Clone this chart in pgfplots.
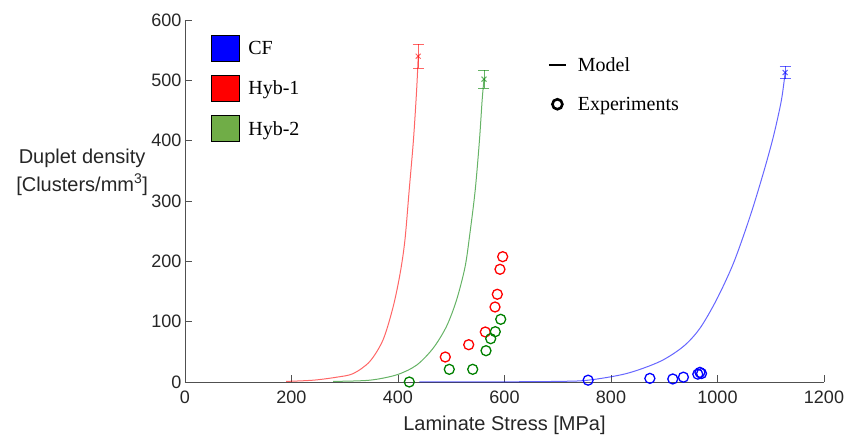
\documentclass[border=0pt]{standalone}
\usepackage{fontspec}
\setmainfont{Liberation Sans}
\newfontfamily\legfont{Liberation Serif}
\usepackage{pgfplots}
\pgfplotsset{compat=1.18}
\definecolor{cfblue}{RGB}{0,0,255}
\definecolor{hyred}{RGB}{255,0,0}
\definecolor{hygreen}{RGB}{0,128,0}
\definecolor{hypatch}{RGB}{112,173,71}
\definecolor{axgray}{RGB}{80,80,80}

\begin{document}
\begin{tikzpicture}
\begin{axis}[
  scale only axis, width=639pt, height=362pt,
  xmin=0, xmax=1200, ymin=0, ymax=600,
  axis x line*=bottom, axis y line*=left,
  axis line style={axgray, line width=0.9pt},
  tick align=inside, major tick length=7pt,
  tick style={axgray, line width=0.9pt},
  xtick={0,200,...,1200}, ytick={0,100,...,600},
  /pgf/number format/assume math mode=true,
  /pgf/number format/1000 sep={},
  tick label style={font=\fontsize{18}{21}\selectfont, text=black!85},
  x tick label style={yshift=-5pt},
  xlabel={Laminate Stress [MPa]},
  ylabel={Duplet density\\{[}Clusters/mm\textsuperscript{3}{]}},
  every axis x label/.style={at={(rel axis cs:0.5,0)}, yshift=-43pt, anchor=center,
    font=\fontsize{20}{24}\selectfont, text=black!85},
  every axis y label/.style={at={(rel axis cs:-0.161,0.58)}, anchor=center, align=center,
    font=\fontsize{20}{28}\selectfont, text=black!85},
  clip=false,
  legend cell align=left,
  legend style={at={(0.036,0.965)}, anchor=north west, draw=none, fill=none,
    row sep=13pt, column sep=6pt, font=\legfont\fontsize{20}{24}\selectfont},
  legend image code/.code={\draw[#1, draw=black, line width=1.2pt] (0pt,-13pt) rectangle (28pt,13pt);},
]
\addlegendimage{fill=cfblue}
\addlegendentry{CF}
\addlegendimage{fill=hyred}
\addlegendentry{Hyb-1}
\addlegendimage{fill=hypatch}
\addlegendentry{Hyb-2}

% model curves
\addplot[hyred, opacity=0.6, line width=1pt, smooth, forget plot] coordinates {
  (190,1) (241,3) (285,8) (316,14) (347,34) (372,70) (391,125) (404,180)
  (413,235) (421,318) (429,401) (435,484) (438,540)
};
\addplot[hygreen, opacity=0.6, line width=1pt, smooth, forget plot] coordinates {
  (278,1) (347,3) (398,12) (435,28) (466,56) (491,92) (510,136) (526,191)
  (535,246) (545,318) (553,401) (558,467) (561.5,502)
};
\addplot[cfblue, opacity=0.6, line width=1pt, smooth, forget plot] coordinates {
  (440,0) (600,0.3) (700,1) (757,3) (829,14) (892,34) (936,59) (967,89)
  (998,136) (1030,197) (1061,274) (1086,346) (1105,407) (1120,467) (1127,513)
};

% model end points with error bars
\addplot[hyred, opacity=0.6, only marks, mark=x, mark size=3.5pt, line width=1pt, forget plot,
  error bars/.cd, y dir=both, y explicit, error mark options={rotate=90, mark size=5.5pt, hyred}]
  coordinates {(438,540) +- (0,20)};
\addplot[hygreen, opacity=0.6, only marks, mark=x, mark size=3.5pt, line width=1pt, forget plot,
  error bars/.cd, y dir=both, y explicit, error mark options={rotate=90, mark size=5.5pt, hygreen}]
  coordinates {(561.5,502) +- (0,15)};
\addplot[cfblue, opacity=0.6, only marks, mark=x, mark size=3.5pt, line width=1pt, forget plot,
  error bars/.cd, y dir=both, y explicit, error mark options={rotate=90, mark size=5.5pt, cfblue}]
  coordinates {(1127,513) +- (0,10)};

% experiments
\addplot[hyred, only marks, mark=o, mark size=5pt, line width=1.3pt, forget plot] coordinates {
  (596.6,207.7) (591.5,186.8) (586.5,145.4) (582.2,124.3) (564,82.9) (532.8,61.8) (488.8,41.4)
};
\addplot[hygreen, only marks, mark=o, mark size=5pt, line width=1.3pt, forget plot] coordinates {
  (592.9,103.9) (582.7,83.4) (574.1,71.8) (565.3,51.9) (540.3,21) (496.3,21) (421.2,0)
};
\addplot[cfblue, only marks, mark=o, mark size=5pt, line width=1.3pt, forget plot] coordinates {
  (757,3) (873,6) (916,5) (936,8) (963,13) (967,16) (970,14)
};
\end{axis}

\begin{axis}[
  scale only axis, width=639pt, height=362pt,
  xmin=0, xmax=1200, ymin=0, ymax=600,
  hide axis,
  legend cell align=left,
  legend style={at={(0.563,0.908)}, anchor=north west, draw=none, fill=none,
    row sep=20pt, column sep=9pt, font=\legfont\fontsize{20}{24}\selectfont},
]
\addlegendimage{black, line width=1.8pt}
\addlegendentry{Model}
\addlegendimage{black, only marks, mark=o, mark size=5pt, line width=2.6pt}
\addlegendentry{Experiments}
\end{axis}

\pgfresetboundingbox
\path (-185pt,-54pt) rectangle (661pt,382pt);
\end{tikzpicture}
\end{document}
